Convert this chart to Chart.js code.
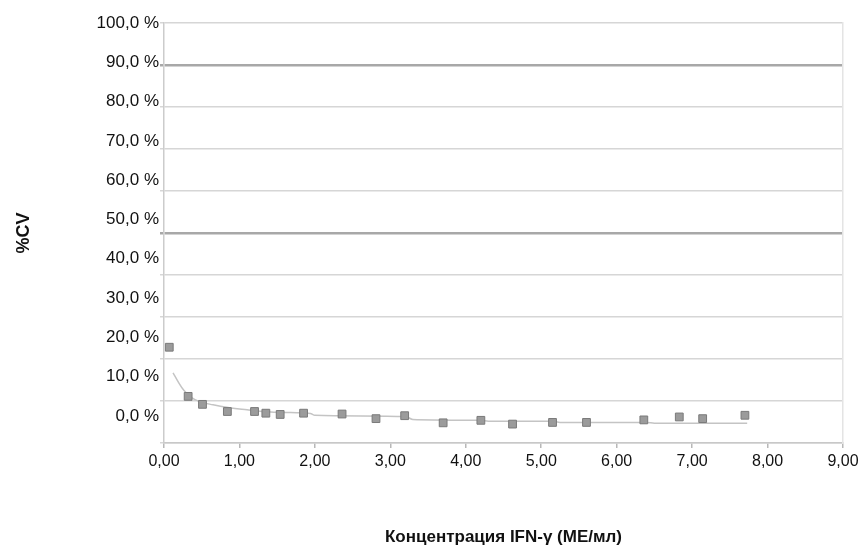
<!DOCTYPE html>
<html>
<head>
<meta charset="utf-8">
<script src="https://cdn.jsdelivr.net/npm/chart.js@4"></script>
<style>
  body { margin: 0; background: #fff; }
  canvas { display: block; }
</style>
</head>
<body>
<canvas id="cv" width="863" height="550"></canvas>
<script>
// measured points: concentration (IU/ml) vs %CV
const concX = [0.07, 0.32, 0.51, 0.84, 1.20, 1.35, 1.54, 1.85, 2.36, 2.81, 3.19, 3.70, 4.20, 4.62, 5.15, 5.60, 6.36, 6.83, 7.14, 7.70];
const cvY   = [22.8, 11.1, 9.2, 7.5, 7.5, 7.1, 6.8, 7.1, 6.9, 5.8, 6.5, 4.8, 5.4, 4.5, 4.9, 4.9, 5.5, 6.2, 5.8, 6.6];

// trend line
const trendX = [0.12, 0.20, 0.26, 0.35, 0.48, 0.65, 0.83, 1.10, 1.30, 1.76, 1.94, 2.00, 3.20, 3.30, 4.20, 4.30, 5.15, 5.25, 6.40, 6.50, 7.73];
const trendY = [16.7, 14.2, 12.6, 11.0, 9.8, 9.1, 8.5, 7.9, 7.5, 7.2, 7.05, 6.6, 6.3, 5.6, 5.4, 5.2, 5.2, 4.9, 4.9, 4.7, 4.7];

const xTicks = [0, 1, 2, 3, 4, 5, 6, 7, 8, 9];
const yTicks = [0, 10, 20, 30, 40, 50, 60, 70, 80, 90, 100];
const boldGrid = [50, 90];

const xTitle = 'Концентрация IFN-γ (МЕ/мл)';
const yTitle = '%CV';

const FONT = "'Liberation Sans', Arial, sans-serif";
const comma = (v, d) => v.toFixed(d).replace('.', ',');

new Chart(document.getElementById('cv'), {
  data: {
    datasets: [
      {
        type: 'scatter',
        data: concX.map((x, i) => ({ x, y: cvY[i] })),
        xAxisID: 'x',
        yAxisID: 'y',
        pointStyle: 'rect',
        pointRadius: 5.5,
        backgroundColor: '#9b9b9b',
        borderColor: '#7a7a7a',
        borderWidth: 1,
        order: 0
      },
      {
        type: 'line',
        data: trendX.map((x, i) => ({ x, y: trendY[i] })),
        xAxisID: 'x',
        yAxisID: 'y',
        borderColor: '#c4c4c4',
        borderWidth: 1.5,
        pointRadius: 0,
        cubicInterpolationMode: 'monotone',
        fill: false,
        order: 1
      }
    ]
  },
  options: {
    responsive: false,
    animation: false,
    layout: { padding: { top: 23, right: 20, bottom: 0, left: 0 } },
    plugins: { legend: { display: false }, tooltip: { enabled: false } },
    scales: {
      x: {
        type: 'linear',
        min: 0, max: 9,
        afterBuildTicks: a => { a.ticks = xTicks.map(v => ({ value: v })); },
        ticks: { callback: v => comma(v, 2), font: { family: FONT, size: 16 }, color: '#111', padding: 4 },
        grid: { drawOnChartArea: false, drawTicks: true, tickLength: 5, color: '#b8b8b8', lineWidth: 1.5 },
        border: { color: '#c8c8c8', width: 1.5 },
        title: { display: true, text: xTitle, font: { family: FONT, size: 17, weight: 'bold' }, color: '#111', padding: { top: 0, bottom: 2 } },
        afterFit: a => { a.height = 107; }
      },
      y: {
        type: 'linear',
        position: 'left',
        min: 0, max: 100,
        afterBuildTicks: a => { a.ticks = yTicks.map(v => ({ value: v })); },
        ticks: { display: false },
        grid: {
          drawTicks: true,
          tickLength: 4,
          color: c => boldGrid.includes(c.tick.value) ? '#a8a8a8' : '#d6d6d6',
          lineWidth: c => boldGrid.includes(c.tick.value) ? 2.5 : 1.5
        },
        border: { color: '#cccccc', width: 1.5 },
        afterFit: a => { a.width = 4; }
      },
      yl: {
        type: 'linear',
        position: 'left',
        min: -6.87, max: 100,
        afterBuildTicks: a => { a.ticks = yTicks.map(v => ({ value: v })); },
        ticks: { callback: v => comma(v, 1) + ' %', font: { family: FONT, size: 17 }, color: '#111', padding: 1 },
        grid: { display: false, drawTicks: false },
        border: { display: false },
        title: { display: true, text: yTitle, font: { family: FONT, size: 18, weight: 'bold' }, color: '#111', padding: { top: 13, bottom: 0 } },
        afterFit: a => { a.width = 160; }
      },
      yr: {
        type: 'linear',
        position: 'right',
        min: 0, max: 100,
        ticks: { display: false },
        grid: { display: false, drawTicks: false },
        border: { color: '#e4e4e4', width: 1.5 },
        afterFit: a => { a.width = 0; }
      }
    }
  }
});
</script>
</body>
</html>
